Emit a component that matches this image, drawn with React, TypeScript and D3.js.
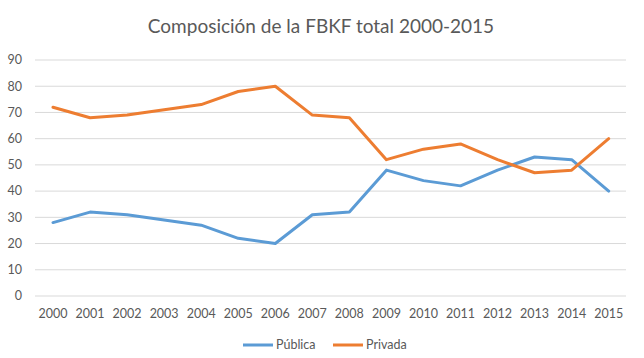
import React from "react";
import * as d3 from "d3";

const years = ["2000","2001","2002","2003","2004","2005","2006","2007","2008","2009","2010","2011","2012","2013","2014","2015"];
const publica = [28, 32, 31, 29, 27, 22, 20, 31, 32, 48, 44, 42, 48, 53, 52, 40];
const privada = [72, 68, 69, 71, 73, 78, 80, 69, 68, 52, 56, 58, 52, 47, 48, 60];
const yTicks = [0, 10, 20, 30, 40, 50, 60, 70, 80, 90];
const seriesNames = ["Pública", "Privada"];
const colors = ["#5B9BD5", "#ED7D31"];

export default function App() {
  const W = 644, H = 358;
  const x = d3.scalePoint<string>().domain(years).range([53, 608.7]);
  const y = d3.scaleLinear().domain([0, 90]).range([296, 60]);
  const line = d3.line<number>().x((_, i) => x(years[i])!).y(d => y(d));
  const font = "Lato, 'Open Sans', sans-serif";
  const series = [publica, privada];
  const legendX = [243, 333];
  return (
    <svg width={W} height={H} style={{ position: "absolute", left: 0, top: 0 }} fontFamily={font}>
      <rect width={W} height={H} fill="#fff" />
      <text x={321} y={33} textAnchor="middle" fontSize={19} fill="#595959">Composición de la FBKF total 2000-2015</text>
      {yTicks.map(t => (
        <g key={t}>
          <line x1={35} x2={626} y1={y(t)} y2={y(t)} stroke="#d9d9d9" strokeWidth={1} />
          <text x={22} y={y(t)} dy="0.35em" textAnchor="end" fontSize={12.5} fill="#595959">{t}</text>
        </g>
      ))}
      {years.map(yr => (
        <text key={yr} x={x(yr)} y={318} textAnchor="middle" fontSize={12.5} fill="#595959">{yr}</text>
      ))}
      {series.map((s, i) => (
        <path key={i} d={line(s)!} fill="none" stroke={colors[i]} strokeWidth={3} strokeLinejoin="round" strokeLinecap="round" />
      ))}
      {seriesNames.map((n, i) => (
        <g key={n}>
          <line x1={legendX[i]} x2={legendX[i] + 30} y1={345} y2={345} stroke={colors[i]} strokeWidth={3} />
          <text x={legendX[i] + 33} y={345} dy="0.35em" fontSize={12.5} fill="#595959">{n}</text>
        </g>
      ))}
    </svg>
  );
}
